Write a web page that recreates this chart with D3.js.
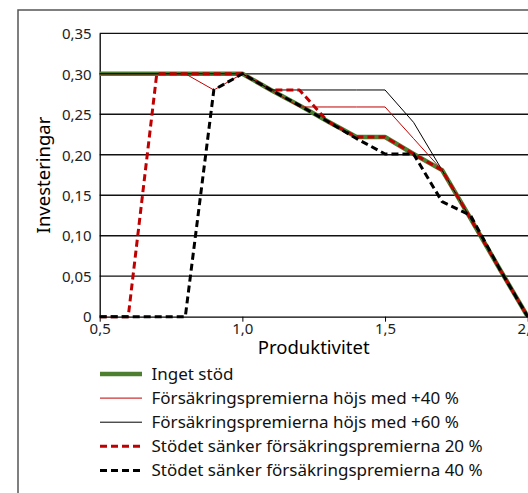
<!DOCTYPE html>
<html><head><meta charset="utf-8">
<script src="https://cdn.jsdelivr.net/npm/d3@7"></script>
<style>
html,body{margin:0;padding:0;background:#fff;overflow:hidden}
svg{display:block;font-family:"Noto Sans","Open Sans",sans-serif}
</style></head>
<body>
<svg id="c" width="528" height="493"></svg>
<script>
const xValues = [0.5,0.6,0.7,0.8,0.9,1.0,1.1,1.2,1.3,1.4,1.5,1.6,1.7,1.8,1.9,2.0];
const ingetStod   = [0.30,0.30,0.30,0.30,0.30,0.30,0.280,0.261,0.241,0.222,0.222,0.201,0.181,0.121,0.060,0];
const hojs40      = [0.30,0.30,0.30,0.30,0.28,0.30,0.280,0.259,0.259,0.259,0.259,0.220,0.181,0.121,0.060,0];
const hojs60      = [0.30,0.30,0.30,0.30,0.30,0.30,0.280,0.280,0.280,0.280,0.280,0.240,0.181,0.121,0.060,0];
const sanker20    = [0,0,0.30,0.30,0.30,0.30,0.280,0.280,0.241,0.222,0.222,0.201,0.181,0.121,0.060,0];
const sanker40    = [0,0,0,0,0.28,0.30,0.280,0.261,0.241,0.220,0.201,0.201,0.142,0.125,0.060,0];
const seriesNames = ["Inget stöd","Försäkringspremierna höjs med +40 %","Försäkringspremierna höjs med +60 %","Stödet sänker försäkringspremierna 20 %","Stödet sänker försäkringspremierna 40 %"];
const yTicks = [0,0.05,0.10,0.15,0.20,0.25,0.30,0.35];
const yTickLabels = ["0","0,05","0,10","0,15","0,20","0,25","0,30","0,35"];
const xTicks = [0.5,1.0,1.5,2.0];
const xTickLabels = ["0,5","1,0","1,5","2,0"];

const styles = [
  {color:"#4e7f30", width:4.5, dash:null},
  {color:"#c00000", width:1, dash:null},
  {color:"#000000", width:1, dash:null},
  {color:"#c00000", width:3, dash:"7,4"},
  {color:"#000000", width:3, dash:"7,4"}
];
const seriesData = [ingetStod,hojs40,hojs60,sanker20,sanker40];

const svg = d3.select("#c");
const L=99.7, R=527.7, T=33.3, B=316.7;
const x = d3.scaleLinear().domain([0.5,2.0]).range([L,R]);
const y = d3.scaleLinear().domain([0,0.35]).range([B,T]);

// outer frame
svg.append("rect").attr("x",18).attr("y",10).attr("width",700).attr("height",700)
  .attr("fill","none").attr("stroke","#555").attr("stroke-width",1.5);

// gridlines
svg.append("g").selectAll("line").data(yTicks.filter(d=>d>0)).join("line")
  .attr("x1",L).attr("x2",R+5).attr("y1",d=>y(d)).attr("y2",d=>y(d))
  .attr("stroke","#111").attr("stroke-width",1.3);

// y axis
const yAxis = d3.axisLeft(y).tickValues(yTicks).tickFormat((d,i)=>yTickLabels[i]).tickSize(0).tickPadding(8);
const gy = svg.append("g").attr("transform",`translate(${L},0)`).call(yAxis);
gy.select(".domain").attr("stroke","#000").attr("stroke-width",1.3);
gy.selectAll("text").attr("font-size",15).attr("fill","#222").attr("font-family","Noto Sans").attr("dy","0.35em");

// x axis
const xAxis = d3.axisBottom(x).tickValues(xTicks).tickFormat((d,i)=>xTickLabels[i]).tickSize(5).tickSizeOuter(0).tickPadding(2);
const gx = svg.append("g").attr("transform",`translate(0,${B})`).call(xAxis);
gx.select(".domain").attr("stroke","#000").attr("stroke-width",1.3);
gx.selectAll(".tick line").attr("stroke","#000");
gx.selectAll("text").attr("font-size",15).attr("fill","#222").attr("font-family","Noto Sans");

// axis titles
svg.append("text").attr("x",(L+R)/2).attr("y",354).attr("text-anchor","middle")
  .attr("font-size",18.5).attr("fill","#000").text("Produktivitet");
svg.append("text").attr("transform",`translate(50,${(T+B)/2}) rotate(-90)`).attr("text-anchor","middle")
  .attr("font-size",18.5).attr("fill","#000").text("Investeringar");

// lines
const line = d3.line().x((d,i)=>x(xValues[i])).y(d=>y(d));
const gl = svg.append("g");
seriesData.forEach((s,k)=>{
  gl.append("path").datum(s).attr("d",line).attr("fill","none")
    .attr("stroke",styles[k].color).attr("stroke-width",styles[k].width)
    .attr("stroke-dasharray",styles[k].dash).attr("stroke-linejoin","round");
});

// legend
const lg = svg.append("g");
seriesNames.forEach((n,k)=>{
  const yy = 374 + k*24.1;
  lg.append("line").attr("x1",100).attr("x2",142).attr("y1",yy).attr("y2",yy)
    .attr("stroke",styles[k].color).attr("stroke-width",styles[k].width)
    .attr("stroke-dasharray",styles[k].dash);
  lg.append("text").attr("x",151.5).attr("y",yy).attr("dy","0.35em")
    .attr("font-size",17).attr("fill","#111").text(n);
});
</script>
</body></html>
